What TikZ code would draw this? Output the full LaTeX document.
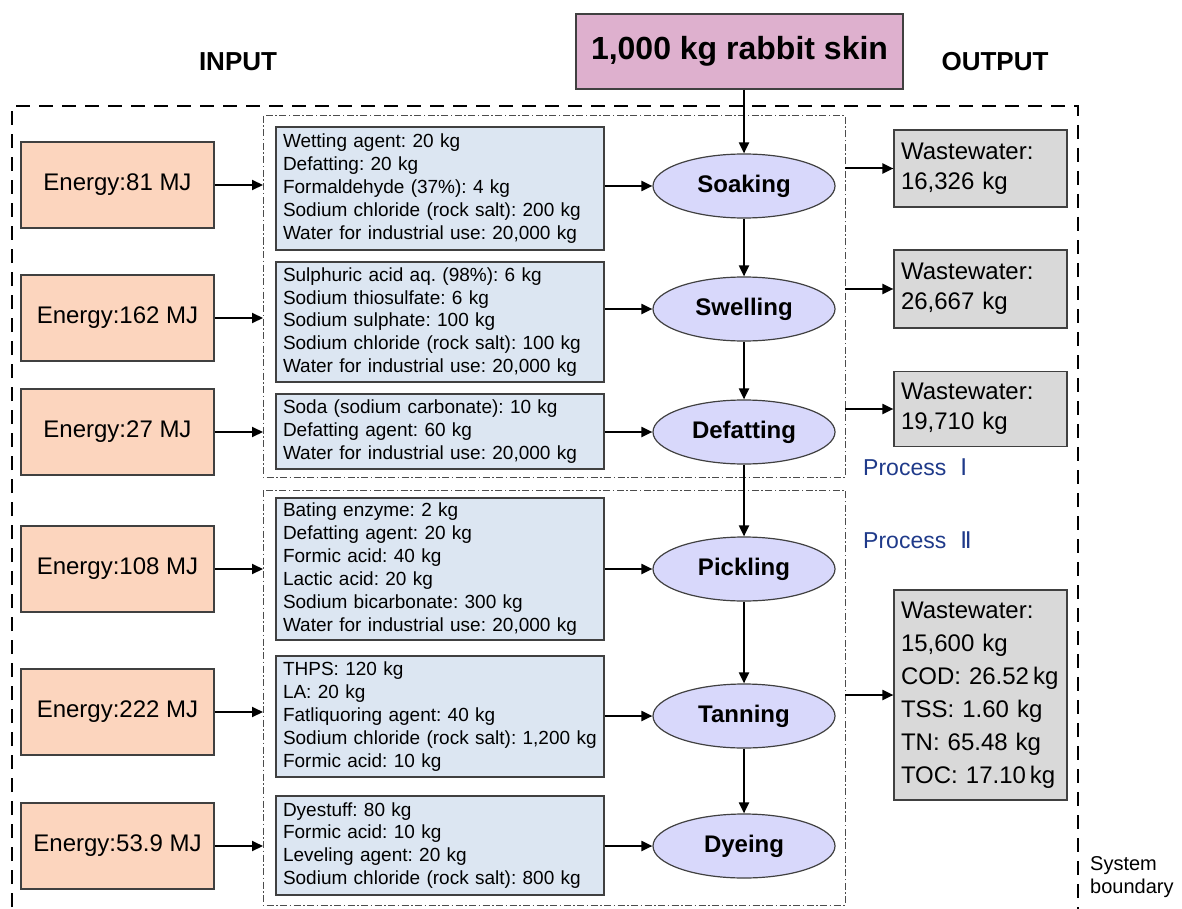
\documentclass[tikz,border=0pt]{standalone}
\usepackage{fontspec}
\setmainfont{Liberation Sans}
\newfontfamily\numfont{DejaVu Sans}
\usetikzlibrary{arrows.meta,shapes.geometric}
\definecolor{pinkc}{RGB}{222,176,206}
\definecolor{energyc}{RGB}{252,213,190}
\definecolor{inputc}{RGB}{220,230,242}
\definecolor{procc}{RGB}{216,216,251}
\definecolor{wastec}{RGB}{217,217,217}
\definecolor{procblue}{RGB}{31,58,138}
\definecolor{edgec}{RGB}{64,64,64}
\frenchspacing
\tikzset{
 skinbox/.style={draw=edgec, line width=1.2pt, fill=pinkc, minimum width=327pt, minimum height=75pt, inner sep=0pt, font=\bfseries\fontsize{32}{36}\selectfont},
 ebox/.style={draw=edgec, line width=1.2pt, fill=energyc, minimum width=193pt, minimum height=86pt, inner sep=0pt, font=\fontsize{24}{28}\selectfont},
 ibox/.style={draw=edgec, line width=1.2pt, fill=inputc, minimum width=328pt, text width=314pt, inner xsep=7pt, inner ysep=2pt, align=left, font=\fontsize{19}{22.9}\selectfont},
 proc/.style={ellipse, draw=edgec, line width=1.2pt, fill=procc, minimum width=182pt, minimum height=64pt, inner sep=0pt, font=\bfseries\fontsize{24}{28}\selectfont},
 wbox/.style={draw=edgec, line width=1.2pt, fill=wastec, minimum width=173pt, text width=159pt, inner xsep=7pt, inner ysep=2pt, align=left, font=\fontsize{24}{30}\selectfont},
 arr/.style={-{Triangle[length=11pt,width=10pt]}, line width=2pt},
 frame/.style={draw=black!70, line width=1pt, dash pattern=on 7pt off 2.5pt on 1.5pt off 2.5pt},
 boundary/.style={line width=2.5pt, dash pattern=on 14pt off 9pt},
 headlab/.style={font=\bfseries\fontsize{26}{30}\selectfont, inner sep=0pt},
 proclab/.style={anchor=west, text=procblue, font=\fontsize{23}{28}\selectfont, inner sep=0pt},
}
\begin{document}
\begin{tikzpicture}[x=1pt,y=-1pt]
\useasboundingbox[fill=white] (0,0) rectangle (1182,909);

% system boundary
\coordinate (sbl) at (12,106);
\coordinate (sbr) at (1078,106);
\draw[boundary] (12,930) -- (sbl) -- (sbr) -- (1078,930);

% process frames
\coordinate (p1nw) at (263,116);
\coordinate (p1se) at (845,477);
\coordinate (p2nw) at (263,490);
\coordinate (p2se) at (845,905);
\draw[frame] (p1nw) rectangle (p1se);
\draw[frame] (p2nw) rectangle (p2se);

% headers
\node[headlab] (inlab) at (238,62) {INPUT};
\node[headlab] (outlab) at (995,62) {OUTPUT};
\node[skinbox] (skin) at (739.5,51.5) {1,000 kg rabbit skin};

% energy boxes
\node[ebox] (e1) at (117.5,185) {Energy:81 MJ};
\node[ebox] (e2) at (117.5,318) {Energy:162 MJ};
\node[ebox] (e3) at (117.5,432) {Energy:27 MJ};
\node[ebox] (e4) at (117.5,569) {Energy:108 MJ};
\node[ebox] (e5) at (117.5,712) {Energy:222 MJ};
\node[ebox] (e6) at (117.5,846) {Energy:53.9 MJ};

% input boxes
\node[ibox, minimum height=123pt] (b1) at (440,188.5) {Wetting agent: 20 kg\\Defatting: 20 kg\\Formaldehyde (37\%): 4 kg\\Sodium chloride (rock salt): 200 kg\\Water for industrial use: 20,000 kg};
\node[ibox, minimum height=120pt] (b2) at (440,322) {Sulphuric acid aq. (98\%): 6 kg\\Sodium thiosulfate: 6 kg\\Sodium sulphate: 100 kg\\Sodium chloride (rock salt): 100 kg\\Water for industrial use: 20,000 kg};
\node[ibox, minimum height=75pt] (b3) at (440,431.5) {Soda (sodium carbonate): 10 kg\\Defatting agent: 60 kg\\Water for industrial use: 20,000 kg};
\node[ibox, minimum height=142pt] (b4) at (440,569) {Bating enzyme: 2 kg\\Defatting agent: 20 kg\\Formic acid: 40 kg\\Lactic acid: 20 kg\\Sodium bicarbonate: 300 kg\\Water for industrial use: 20,000 kg};
\node[ibox, minimum height=121pt] (b5) at (440,716.5) {THPS: 120 kg\\LA: 20 kg\\Fatliquoring agent: 40 kg\\Sodium chloride (rock salt): 1,200 kg\\Formic acid: 10 kg};
\node[ibox, minimum height=99pt] (b6) at (440,845.5) {Dyestuff: 80 kg\\Formic acid: 10 kg\\Leveling agent: 20 kg\\Sodium chloride (rock salt): 800 kg};

% process ellipses
\node[proc] (s1) at (744,186) {Soaking};
\node[proc] (s2) at (744,309) {Swelling};
\node[proc] (s3) at (744,432) {Defatting};
\node[proc] (s4) at (744,569) {Pickling};
\node[proc] (s5) at (744,716) {Tanning};
\node[proc] (s6) at (744,846) {Dyeing};

% wastewater boxes
\node[wbox, minimum height=77pt] (w1) at (980.5,168.5) {Wastewater:\\16,326 kg};
\node[wbox, minimum height=78pt] (w2) at (980.5,289) {Wastewater:\\26,667 kg};
\node[wbox, minimum height=75pt] (w3) at (980.5,409) {Wastewater:\\19,710 kg};
\node[wbox, minimum height=210pt, font=\fontsize{24}{33}\selectfont] (w4) at (980.5,695) {Wastewater:\\15,600 kg\\COD: 26.52\,kg\\TSS: 1.60 kg\\TN: 65.48 kg\\TOC: 17.10\,kg};

% labels
\node[proclab] (pI) at (863,467) {Process\hspace{14pt}{\numfont Ⅰ}};
\node[proclab] (pII) at (863,540) {Process\hspace{14pt}{\numfont Ⅱ}};
\node[anchor=west, align=left, inner sep=0pt, font=\fontsize{20}{23}\selectfont] (sb) at (1090,877) {System\\boundary};

% energy arrows
\draw[arr] (e1.east) -- (e1.east -| p1nw);
\draw[arr] (e2.east) -- (e2.east -| p1nw);
\draw[arr] (e3.east) -- (e3.east -| p1nw);
\draw[arr] (e4.east) -- (e4.east -| p2nw);
\draw[arr] (e5.east) -- (e5.east -| p2nw);
\draw[arr] (e6.east) -- (e6.east -| p2nw);

% input arrows
\draw[arr] (b1.east |- s1.west) -- (s1.west);
\draw[arr] (b2.east |- s2.west) -- (s2.west);
\draw[arr] (b3.east |- s3.west) -- (s3.west);
\draw[arr] (b4.east |- s4.west) -- (s4.west);
\draw[arr] (b5.east |- s5.west) -- (s5.west);
\draw[arr] (b6.east |- s6.west) -- (s6.west);

% main chain
\draw[arr] (s1.north |- skin.south) -- (s1.north);
\draw[arr] (s1.south) -- (s2.north);
\draw[arr] (s2.south) -- (s3.north);
\draw[arr] (s3.south) -- (s4.north);
\draw[arr] (s4.south) -- (s5.north);
\draw[arr] (s5.south) -- (s6.north);

% output arrows
\draw[arr] (w1.west -| p1se) -- (w1.west);
\draw[arr] (w2.west -| p1se) -- (w2.west);
\draw[arr] (w3.west -| p1se) -- (w3.west);
\draw[arr] (w4.west -| p2se) -- (w4.west);
\end{tikzpicture}
\end{document}
